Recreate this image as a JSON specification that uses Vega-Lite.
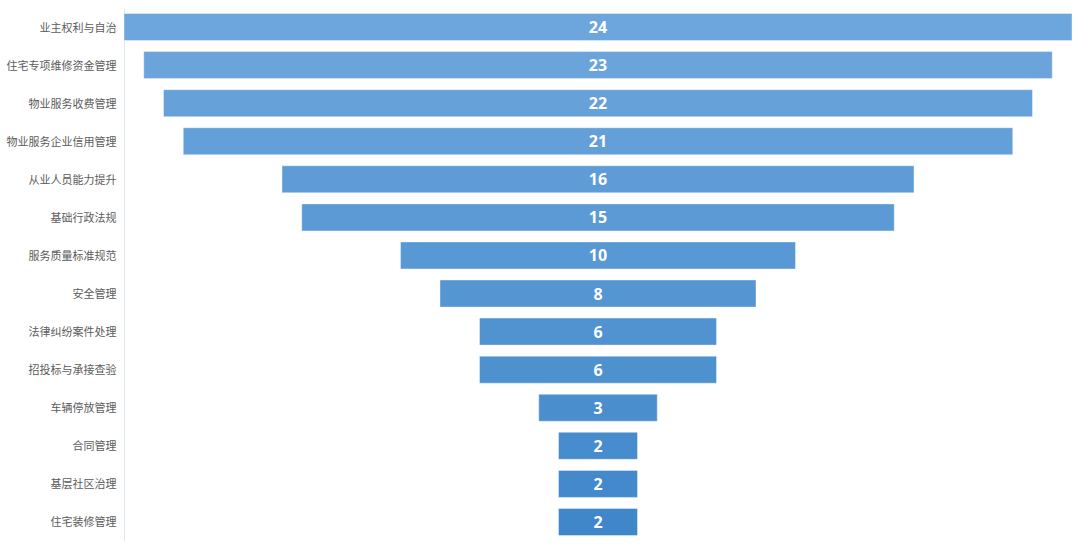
{
  "$schema": "https://vega.github.io/schema/vega-lite/v6.json",
  "width": 948,
  "height": 533,
  "autosize": "none",
  "padding": {"left": 124, "top": 8, "right": 8, "bottom": 7},
  "background": "#ffffff",
  "config": {"view": {"stroke": null}, "font": "Noto Sans CJK SC"},
  "data": {
    "values": [
      {"item": "业主权利与自治", "count": 24},
      {"item": "住宅专项维修资金管理", "count": 23},
      {"item": "物业服务收费管理", "count": 22},
      {"item": "物业服务企业信用管理", "count": 21},
      {"item": "从业人员能力提升", "count": 16},
      {"item": "基础行政法规", "count": 15},
      {"item": "服务质量标准规范", "count": 10},
      {"item": "安全管理", "count": 8},
      {"item": "法律纠纷案件处理", "count": 6},
      {"item": "招投标与承接查验", "count": 6},
      {"item": "车辆停放管理", "count": 3},
      {"item": "合同管理", "count": 2},
      {"item": "基层社区治理", "count": 2},
      {"item": "住宅装修管理", "count": 2}
    ]
  },
  "encoding": {
    "y": {
      "field": "item",
      "type": "nominal",
      "sort": null,
      "scale": {"paddingInner": 0.29, "paddingOuter": 0.145},
      "axis": {
        "title": null,
        "ticks": false,
        "grid": false,
        "domainColor": "#e2e7ee",
        "domainWidth": 1,
        "labelPadding": 8,
        "labelOffset": 1.5,
        "labelColor": "#5b5b5b",
        "labelFontSize": 11,
        "labelFont": "Noto Sans CJK SC"
      }
    }
  },
  "layer": [
    {
      "mark": {"type": "bar", "stroke": "#ffffff", "strokeOpacity": 0.4, "strokeWidth": 1},
      "encoding": {
        "x": {
          "field": "count",
          "type": "quantitative",
          "stack": "center",
          "scale": {"domain": [0, 24], "nice": false},
          "axis": null
        },
        "color": {
          "field": "item",
          "type": "nominal",
          "sort": null,
          "legend": null,
          "scale": {
            "range": ["#6DA6DD", "#6AA4DB", "#66A1DA", "#639FD8", "#5F9CD7", "#5C9AD5", "#5898D4", "#5595D2", "#5193D1", "#4E91CF", "#4A8ECE", "#478CCC", "#4389CB", "#4087C9"]
          }
        }
      }
    },
    {
      "mark": {"type": "text", "color": "#ffffff", "fontWeight": "bold", "fontSize": 16, "font": "Open Sans", "baseline": "middle", "align": "center", "dy": 1},
      "encoding": {
        "x": {"datum": 12, "type": "quantitative"},
        "text": {"field": "count", "type": "quantitative"}
      }
    }
  ]
}
